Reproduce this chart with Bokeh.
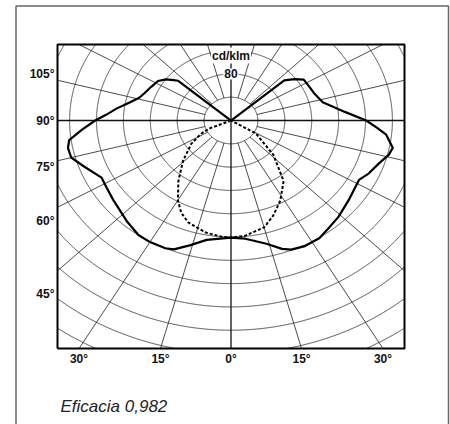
import numpy as np
from bokeh.plotting import figure
from bokeh.models import Range1d
from bokeh.core.properties import value
from bokeh.embed import file_html
from bokeh.resources import INLINE

# ---------------- data (angles in degrees from nadir, intensities in cd/klm) ----------------
ring_values = [40, 80, 120, 160, 200, 240, 280, 320, 360, 400, 440, 480]
ring_label_value = 80
unit_label = "cd/klm"
spoke_angles = list(range(0, 360, 15))

left_tick_angles = [105, 90, 75, 60, 45]
left_tick_labels = ["105°", "90°", "75°", "60°", "45°"]
bottom_tick_angles = [-30, -15, 0, 15, 30]
bottom_tick_labels = ["30°", "15°", "0°", "15°", "30°"]

solid_left_angles = [0, 10, 16, 21, 24, 30, 35, 42, 52, 58, 63, 70, 75, 79, 82, 86, 90,
                     93, 97, 101, 106, 110, 116, 122, 126, 129, 131, 131.5]
solid_left_cd = [201, 208, 223, 237, 240, 241, 240, 232, 222, 218, 216, 232, 246, 247, 243, 222, 202,
                 186, 171, 156, 142, 137, 132, 128, 120, 110, 104, 0]

solid_right_angles = [0, 6, 14, 19, 22, 27, 33, 38, 44, 52, 57, 62, 66, 71.5, 76, 79, 84, 87, 90,
                      95, 103, 111, 117, 123, 127, 131, 131.5]
solid_right_cd = [201, 204, 218, 233, 239, 242, 241, 235, 230, 222, 218, 216, 224, 232, 242, 245, 232, 216, 201,
                  170, 140, 132, 130, 129, 118, 105, 0]

dash_left_angles = [0, 4, 11, 20, 25, 30, 37, 46, 56, 63, 67, 70]
dash_left_cd = [201, 200, 196, 186, 175, 158, 130, 99, 71, 50, 35, 0]

dash_right_angles = [0, 6, 15, 21, 28, 37, 47, 59, 64]
dash_right_cd = [201, 199, 190, 175, 156, 130, 86, 43, 0]

caption = "Eficacia 0,982"

# ---------------- layout ----------------
W, H = 450, 424
PX_X, PX_Y = 0.6725, 0.5825          # pixels per cd/klm (horizontal / vertical)
XH, YT, YB = 258.0, 130.5, -391.5     # inner chart frame in cd/klm
FRAME_LEFT, FRAME_TOP = 57, 44        # canvas px of the inner frame

x0 = -XH - FRAME_LEFT / PX_X
x1 = x0 + W / PX_X
y1 = YT + FRAME_TOP / PX_Y
y0 = y1 - H / PX_Y

p = figure(width=W, height=H, x_range=Range1d(x0, x1), y_range=Range1d(y0, y1),
           output_backend="svg", toolbar_location=None,
           x_axis_type=None, y_axis_type=None, min_border=0,
           outline_line_color=None, background_fill_color="white",
           border_fill_color="white")
p.grid.visible = False

GRID = "#1e1e1e"


def inside(x, y):
    return (np.abs(x) <= XH + 1e-9) & (y <= YT + 1e-9) & (y >= YB - 1e-9)


# rings, clipped to the inner frame
cx, cy = [], []
t = np.linspace(0, 2 * np.pi, 2881)
for r in ring_values:
    x = r * np.sin(t)
    y = -r * np.cos(t)
    m = inside(x, y)
    cx.extend(np.where(m, x, np.nan).tolist() + [np.nan])
    cy.extend(np.where(m, y, np.nan).tolist() + [np.nan])
p.line(cx, cy, line_color=GRID, line_width=0.8)

# spokes
sx, sy, wide_x, wide_y = [], [], [], []
for a in spoke_angles:
    dx, dy = np.sin(np.radians(a)), -np.cos(np.radians(a))
    ts = []
    if abs(dx) > 1e-9:
        ts.append(XH / abs(dx))
    if dy > 1e-9:
        ts.append(YT / dy)
    if dy < -1e-9:
        ts.append(-YB / -dy)
    tend = min(ts)
    through = a % 90 == 0
    r0 = 0 if through else ring_values[0]
    seg_x = [r0 * dx, tend * dx]
    seg_y = [r0 * dy, tend * dy]
    if through:
        wide_x.append(seg_x); wide_y.append(seg_y)
    else:
        sx.append(seg_x); sy.append(seg_y)
p.multi_line(sx, sy, line_color=GRID, line_width=0.8)
p.multi_line(wide_x, wide_y, line_color="#111111", line_width=1.3)

# inner frame
p.line([-XH, -XH, XH, XH, -XH], [YB, YT, YT, YB, YB], line_color="black", line_width=2)


def polar(angles, cds, side):
    g = np.radians(np.array(angles, dtype=float))
    r = np.array(cds, dtype=float)
    return (side * r * np.sin(g)).tolist(), (-r * np.cos(g)).tolist()


# solid curve (left reversed + right)
lx, ly = polar(solid_left_angles, solid_left_cd, -1)
rx, ry = polar(solid_right_angles, solid_right_cd, 1)
p.line(lx[::-1] + rx, ly[::-1] + ry, line_color="black", line_width=2.2, line_join="round")

# dashed curve
dlx, dly = polar(dash_left_angles, dash_left_cd, -1)
drx, dry = polar(dash_right_angles, dash_right_cd, 1)
p.line(dlx[::-1] + drx, dly[::-1] + dry, line_color="black", line_width=2.0, line_dash="3 2")

FONT = value("Liberation Sans")

# ring label and unit on the vertical axis
p.text(x=[0, 0], y=[ring_label_value, ring_values[2] - 5 / PX_Y],
       text=[str(ring_label_value), unit_label],
       text_font=FONT, text_font_style="bold", text_font_size="12px",
       text_align="center", text_baseline="middle", text_color="#111111",
       background_fill_color="white", padding=1)

# left angle labels
ly_t = [-XH / np.tan(np.radians(a)) * (PX_X / PX_Y) for a in left_tick_angles]
p.text(x=[-XH - 3 / PX_X] * len(ly_t), y=ly_t, text=left_tick_labels,
       text_font=FONT, text_font_style="bold", text_font_size="12px",
       text_align="right", text_baseline="middle", text_color="#111111")

# bottom angle labels
bx_t = [-YB * np.tan(np.radians(a)) for a in bottom_tick_angles]
p.text(x=bx_t, y=[YB - 10 / PX_Y] * len(bx_t), text=bottom_tick_labels,
       text_font=FONT, text_font_style="bold", text_font_size="12px",
       text_align="center", text_baseline="middle", text_color="#111111")

# caption
p.text(x=[x0 + 60 / PX_X], y=[y1 - 406 / PX_Y], text=[caption],
       text_font=FONT, text_font_style="italic", text_font_size="17px",
       text_align="left", text_baseline="alphabetic", text_color="#222222")

# outer card border
bxl, bxr = x0 + 15.5 / PX_X, x0 + 448 / PX_X
byt, byb = y1 - 5.5 / PX_Y, y0 - 20
p.line([bxl, bxl, bxr, bxr], [byb, byt, byt, byb], line_color="#666666", line_width=1.5)

open("out.html", "w").write(file_html(p, INLINE))
